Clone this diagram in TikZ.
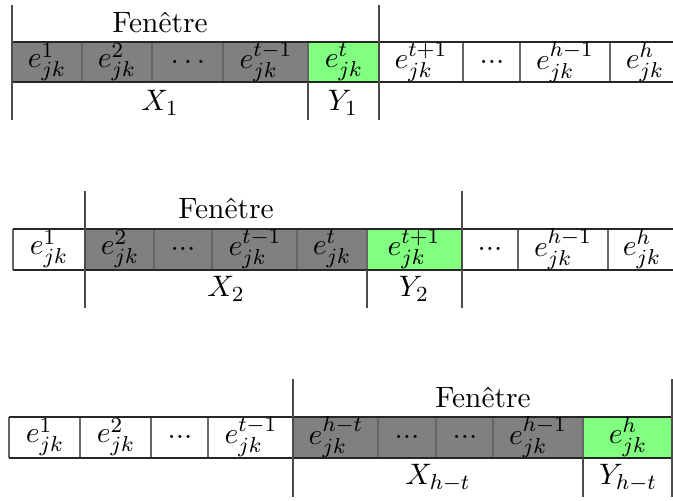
\documentclass[tikz,border=0pt]{standalone}
\begin{document}
\begin{tikzpicture}[x=0.37pt,y=-0.37pt,
	every node/.style={font=\fontsize{10.9pt}{13pt}\selectfont}]
	\tikzset{grise/.style={fill=black!50},
		verte/.style={fill=green!50},
		ligne/.style={line width=0.6pt, black!85},
		sep/.style={line width=0.4pt, black!60},
		fen/.style={line width=0.5pt, black!70},
		txt/.style={inner sep=0pt}}
	\useasboundingbox (0,0) rectangle (673,500);
	% premiere fenetre
	\fill[grise] (12,42) rectangle (308,82);
	\fill[verte] (308,42) rectangle (379,82);
	\foreach \x in {82,152,223,308,463,520,610}
		\draw[sep] (\x,42) -- (\x,82);
	\draw[ligne] (12,42) -- (673,42) (12,82) -- (673,82);
	\draw[fen] (12,5) -- (12,120);
	\draw[fen] (379,5) -- (379,120);
	\draw[fen] (308,82) -- (308,120);
	\node[txt] (a1) at (47,62) {$e_{jk}^{1}$};
	\node[txt] (a2) at (117,62) {$e_{jk}^{2}$};
	\node[txt] (a3) at (188,62) {$\dots$};
	\node[txt] (a4) at (266,62) {$e_{jk}^{t-1}$};
	\node[txt] (a5) at (344,62) {$e_{jk}^{t}$};
	\node[txt] (a6) at (421,62) {$e_{jk}^{t+1}$};
	\node[txt] (a7) at (492,62) {...};
	\node[txt] (a8) at (565,62) {$e_{jk}^{h-1}$};
	\node[txt] (a9) at (645,62) {$e_{jk}^{h}$};
	\node (fa) at (160,22) {Fenêtre};
	\node (xa) at (160,103) {$X_1$};
	\node (ya) at (343,103) {$Y_1$};
	% deuxieme fenetre
	\fill[grise] (85,229) rectangle (367,270);
	\fill[verte] (367,229) rectangle (462,270);
	\foreach \x in {13,154,212,297,367,518,608}
		\draw[sep] (\x,229) -- (\x,270);
	\draw[ligne] (13,229) -- (673,229) (13,270) -- (673,270);
	\draw[fen] (85,191) -- (85,308);
	\draw[fen] (462,191) -- (462,308);
	\draw[fen] (367,270) -- (367,308);
	\node[txt] (b1) at (49,249) {$e_{jk}^{1}$};
	\node[txt] (b2) at (120,249) {$e_{jk}^{2}$};
	\node[txt] (b3) at (183,249) {...};
	\node[txt] (b4) at (255,249) {$e_{jk}^{t-1}$};
	\node[txt] (b5) at (332,249) {$e_{jk}^{t}$};
	\node[txt] (b6) at (414,249) {$e_{jk}^{t+1}$};
	\node[txt] (b7) at (490,249) {...};
	\node[txt] (b8) at (563,249) {$e_{jk}^{h-1}$};
	\node[txt] (b9) at (642,249) {$e_{jk}^{h}$};
	\node (fb) at (226,208) {Fenêtre};
	\node (xb) at (226,289) {$X_2$};
	\node (yb) at (414,289) {$Y_2$};
	% derniere fenetre
	\fill[grise] (293,417) rectangle (583,458);
	\fill[verte] (583,417) rectangle (672,458);
	\foreach \x in {9,80,151,208,378,436,493,583}
		\draw[sep] (\x,417) -- (\x,458);
	\draw[ligne] (9,417) -- (672,417) (9,458) -- (672,458);
	\draw[fen] (293,379) -- (293,497);
	\draw[fen] (672,379) -- (672,497);
	\draw[fen] (583,458) -- (583,497);
	\node[txt] (c1) at (45,437) {$e_{jk}^{1}$};
	\node[txt] (c2) at (116,437) {$e_{jk}^{2}$};
	\node[txt] (c3) at (180,437) {...};
	\node[txt] (c4) at (251,437) {$e_{jk}^{t-1}$};
	\node[txt] (c5) at (336,437) {$e_{jk}^{h-t}$};
	\node[txt] (c6) at (407,437) {...};
	\node[txt] (c7) at (465,437) {...};
	\node[txt] (c8) at (538,437) {$e_{jk}^{h-1}$};
	\node[txt] (c9) at (628,437) {$e_{jk}^{h}$};
	\node (fc) at (483,397) {Fenêtre};
	\node (xc) at (438,478) {$X_{h-t}$};
	\node (yc) at (628,478) {$Y_{h-t}$};
\end{tikzpicture}
\end{document}
